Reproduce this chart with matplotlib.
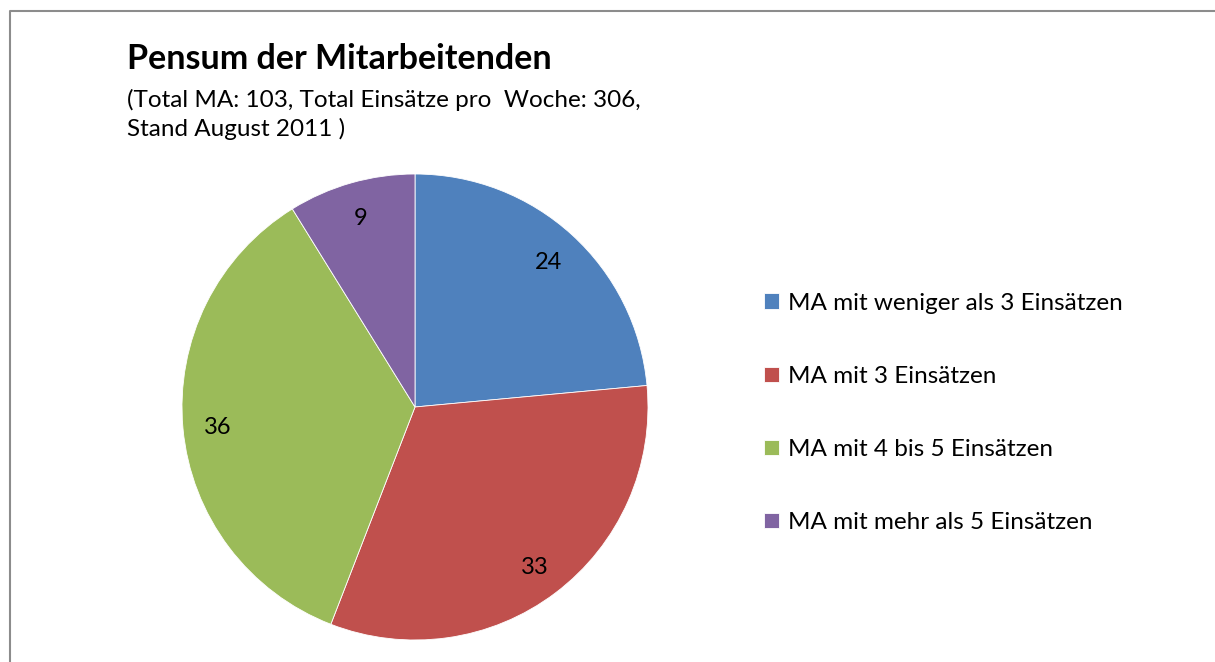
import matplotlib
matplotlib.use("Agg")
import matplotlib.pyplot as plt
from matplotlib.lines import Line2D

# data
labels = ["MA mit weniger als 3 Einsätzen", "MA mit 3 Einsätzen",
          "MA mit 4 bis 5 Einsätzen", "MA mit mehr als 5 Einsätzen"]
values = [24, 33, 36, 9]
colors = ["#4F81BD", "#C0504D", "#9BBB59", "#8064A2"]

title = "Pensum der Mitarbeitenden"
subtitle = ["(Total MA: 103, Total Einsätze pro  Woche: 306,", "Stand August 2011 )"]

W, H = 1215, 662
plt.rcParams['font.family'] = ['Lato', 'DejaVu Sans']

fig = plt.figure(figsize=(W / 100, H / 100), dpi=100)

# frame of the chart area (left and top edge visible)
fig.add_artist(Line2D([10.5 / W, 10.5 / W, 1.0], [0.0, 1 - 10.5 / H, 1 - 10.5 / H],
                      transform=fig.transFigure, color="#8c8c8c", lw=1.5))

# pie: centre (415, 407), radius 233 px
cx, cy, rad = 415, 407, 233
ax = fig.add_axes([(cx - rad) / W, 1 - (cy + rad) / H, 2 * rad / W, 2 * rad / H])
wedges, texts = ax.pie(values, colors=colors, startangle=90, counterclock=False,
                       labels=[str(v) for v in values], labeldistance=0.85,
                       wedgeprops=dict(edgecolor="white", linewidth=0.6),
                       textprops=dict(fontsize=17, color="black"))
for t in texts:
    t.set_horizontalalignment("center")
    t.set_verticalalignment("center_baseline")
ax.set_xlim(-1, 1)
ax.set_ylim(-1, 1)
ax.set_aspect("equal")
ax.axis("off")

fig.text(127 / W, 1 - 69 / H, title, fontsize=24.5, fontweight="bold",
         ha="left", va="baseline")
for i, line in enumerate(subtitle):
    fig.text(127 / W, 1 - (107 + 29 * i) / H, line, fontsize=17.5,
             ha="left", va="baseline")

fig.legend(wedges, labels, loc="upper left",
           bbox_to_anchor=(764 / W, 1 - 293 / H), frameon=False,
           fontsize=17.5, handlelength=0.63, handleheight=0.63, handletextpad=0.35,
           labelspacing=2.14, borderaxespad=0, borderpad=0)

fig.savefig("out.png", dpi=100)
